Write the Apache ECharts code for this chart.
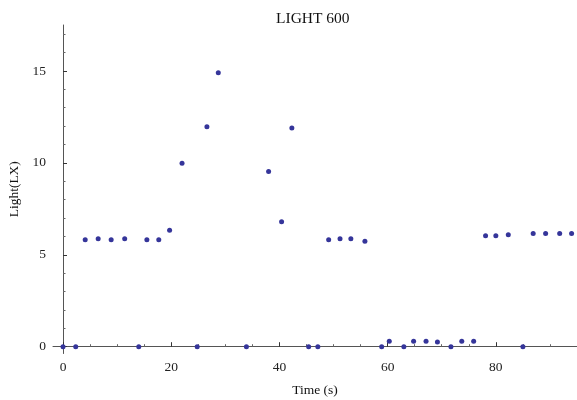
<!DOCTYPE html>
<html>
<head>
<meta charset="utf-8">
<script src="https://cdn.jsdelivr.net/npm/echarts@6/dist/echarts.min.js"></script>
<style>
  html, body { margin: 0; padding: 0; background: #fff; }
  #chart { width: 577px; height: 400px; }
</style>
</head>
<body>
<div id="chart"></div>
<script>
// time (s) of each reading
const times = [0, 2.35, 4.1, 6.5, 8.9, 11.4, 14.0, 15.5, 17.7, 19.7, 22.0, 24.8, 26.6, 28.7,
  33.9, 38.0, 40.4, 42.3, 45.4, 47.1, 49.1, 51.2, 53.2, 55.8, 58.9, 60.3, 63.0, 64.8, 67.1,
  69.2, 71.7, 73.7, 75.9, 78.1, 80.0, 82.3, 85.0, 86.9, 89.2, 91.8, 94.0];
// light (LX)
const lux = [0, 0, 5.82, 5.87, 5.82, 5.87, 0, 5.82, 5.82, 6.34, 9.98, 0, 11.96, 14.9,
  0, 9.53, 6.8, 11.9, 0, 0, 5.82, 5.87, 5.87, 5.74, 0, 0.3, 0, 0.3, 0.3,
  0.25, 0, 0.3, 0.3, 6.03, 6.03, 6.09, 0, 6.16, 6.16, 6.16, 6.16];

const xMajor = [0, 20, 40, 60, 80];
const xMinor = [5, 10, 15, 25, 30, 35, 45, 50, 55, 65, 70, 75, 85, 90, 95];
const yMajor = [0, 5, 10, 15];
const yMinor = [1, 2, 3, 4, 6, 7, 8, 9, 11, 12, 13, 14, 16, 17];

const FONT = '"Liberation Serif", "DejaVu Serif", serif';
const AXIS_COLOR = '#555';

const chart = echarts.init(document.getElementById('chart'));

const xBase = { type: 'value', min: -1.85, max: 95, position: 'bottom', splitLine: { show: false } };
const yBase = { type: 'value', min: -0.37, max: 17.5, position: 'left', splitLine: { show: false } };

chart.setOption({
  animation: false,
  title: {
    text: 'LIGHT 600',
    left: 271,
    top: 6,
    textStyle: { fontFamily: FONT, fontSize: 15.5, fontWeight: 'normal', color: '#111' }
  },
  grid: { left: 53, right: 0, top: 25, bottom: 46.5, containLabel: false, outerBoundsMode: 'none' },
  xAxis: [
    Object.assign({}, xBase, {
      name: 'Time (s)',
      nameLocation: 'middle',
      nameGap: 30,
      nameTextStyle: { fontFamily: FONT, fontSize: 13.5, color: '#111' },
      axisLine: { lineStyle: { color: AXIS_COLOR, width: 1 } },
      axisTick: { inside: true, length: 4.5, customValues: xMajor, lineStyle: { color: '#333' } },
      axisLabel: { customValues: xMajor, margin: 7, fontFamily: FONT, fontSize: 13.5, color: '#222' }
    }),
    Object.assign({}, xBase, {
      axisLine: { show: false },
      axisTick: { inside: true, length: 2.5, customValues: xMinor, lineStyle: { color: '#666' } },
      axisLabel: { show: false }
    })
  ],
  yAxis: [
    Object.assign({}, yBase, {
      name: 'Light(LX)',
      nameLocation: 'middle',
      nameGap: 31,
      nameTextStyle: { fontFamily: FONT, fontSize: 13.5, color: '#111' },
      axisLine: { lineStyle: { color: AXIS_COLOR, width: 1 } },
      axisTick: { inside: true, length: 4, customValues: yMajor, lineStyle: { color: '#333' } },
      axisLabel: { customValues: yMajor, margin: 7, fontFamily: FONT, fontSize: 13.5, color: '#222' }
    }),
    Object.assign({}, yBase, {
      axisLine: { show: false },
      axisTick: { inside: true, length: 2.5, customValues: yMinor, lineStyle: { color: '#666' } },
      axisLabel: { show: false }
    })
  ],
  series: [{
    type: 'scatter',
    xAxisIndex: 0,
    yAxisIndex: 0,
    symbolSize: 5,
    itemStyle: { color: '#35359a', opacity: 1 },
    data: times.map((t, i) => [t, lux[i]])
  }]
});
</script>
</body>
</html>
